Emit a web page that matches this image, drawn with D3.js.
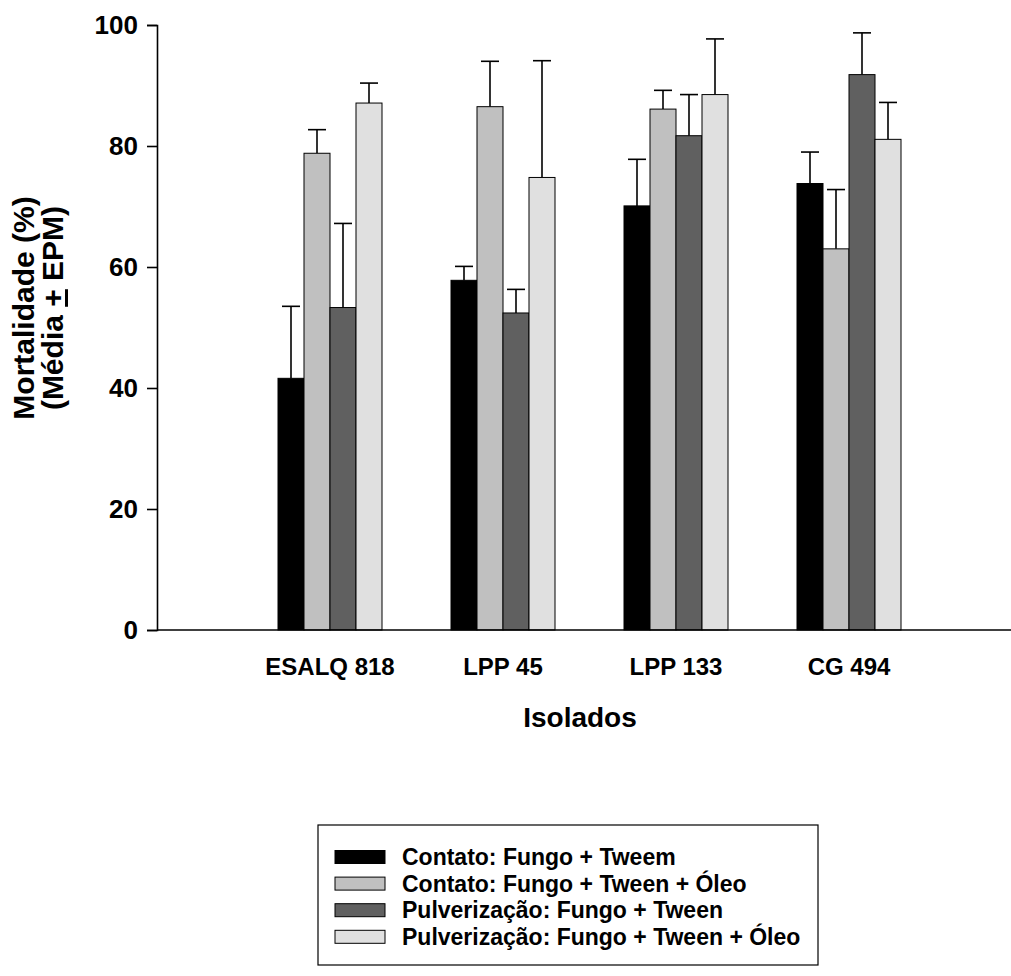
<!DOCTYPE html>
<html>
<head>
<meta charset="utf-8">
<script src="https://cdn.jsdelivr.net/npm/d3@7"></script>
<style>
  html, body { margin: 0; padding: 0; background: #fff; overflow: hidden; }
  svg { display: block; }
  text { font-family: "Liberation Sans", Arial, sans-serif; font-weight: bold; fill: #000; }
</style>
</head>
<body>
<svg id="chart" width="1011" height="976"></svg>
<script>
const categories = ["ESALQ 818", "LPP 45", "LPP 133", "CG 494"];
const seriesNames = [
  "Contato: Fungo + Tweem",
  "Contato: Fungo + Tween + Óleo",
  "Pulverização: Fungo + Tween",
  "Pulverização: Fungo + Tween + Óleo"
];
const seriesColors = ["#000000", "#c0c0c0", "#606060", "#e0e0e0"];
// means per series, in category order
const contatoTween      = [41.6, 57.8, 70.1, 73.8];
const contatoTweenOleo  = [78.8, 86.5, 86.1, 63.0];
const pulvTween         = [53.3, 52.4, 81.7, 91.8];
const pulvTweenOleo     = [87.1, 74.8, 88.5, 81.1];
// standard errors (EPM)
const epmContatoTween     = [11.9, 2.3, 7.7, 5.2];
const epmContatoTweenOleo = [3.9, 7.5, 3.1, 9.8];
const epmPulvTween        = [13.9, 3.9, 6.8, 6.9];
const epmPulvTweenOleo    = [3.3, 19.3, 9.2, 6.1];
const yTicks = [0, 20, 40, 60, 80, 100];

const means = [contatoTween, contatoTweenOleo, pulvTween, pulvTweenOleo];
const epms = [epmContatoTween, epmContatoTweenOleo, epmPulvTween, epmPulvTweenOleo];

const svg = d3.select("#chart");
const axisLeft = 157, axisRight = 1011, yTop = 25, yBottom = 630;

const y = d3.scaleLinear().domain([0, 100]).range([yBottom, yTop]);
const step = 173;
const x0 = d3.scaleBand().domain(categories)
  .range([axisLeft + step * 0.5, axisLeft + step * 4.5]).paddingInner(0).paddingOuter(0);
const barW = 26;
const x1 = d3.scaleBand().domain(d3.range(seriesNames.length))
  .range([0, x0.bandwidth()]).paddingInner(0).paddingOuter((x0.bandwidth() / barW - 4) / 2);

const data = [];
categories.forEach((c, ci) => {
  seriesNames.forEach((s, si) => {
    data.push({ cat: c, si, v: means[si][ci], e: epms[si][ci] });
  });
});

// error bars
const eg = svg.append("g");
data.forEach(d => {
  const cx = x0(d.cat) + x1(d.si) + x1.bandwidth() / 2;
  eg.append("line").attr("x1", cx).attr("x2", cx)
    .attr("y1", y(d.v)).attr("y2", y(d.v + d.e))
    .attr("stroke", "#000").attr("stroke-width", 1.6);
  eg.append("line").attr("x1", cx - 9).attr("x2", cx + 9)
    .attr("y1", y(d.v + d.e)).attr("y2", y(d.v + d.e))
    .attr("stroke", "#000").attr("stroke-width", 1.6);
});

// bars
svg.append("g").selectAll("rect").data(data).join("rect")
  .attr("x", d => x0(d.cat) + x1(d.si))
  .attr("y", d => y(d.v))
  .attr("width", x1.bandwidth())
  .attr("height", d => y(0) - y(d.v))
  .attr("fill", d => seriesColors[d.si])
  .attr("stroke", "#000").attr("stroke-width", 1);

// y axis
const yAxis = svg.append("g").attr("transform", `translate(${axisLeft},0)`)
  .call(d3.axisLeft(y).tickValues(yTicks).tickSize(10).tickPadding(9));
yAxis.select(".domain").attr("stroke", "#000").attr("stroke-width", 1.6);
yAxis.selectAll(".tick line").attr("stroke", "#000").attr("stroke-width", 1.6);
yAxis.selectAll(".tick text").style("font-size", "26px")
  .style("font-family", "Liberation Sans, Arial, sans-serif").style("font-weight", "bold");

// x axis line
svg.append("line").attr("x1", axisLeft).attr("x2", axisRight)
  .attr("y1", yBottom).attr("y2", yBottom).attr("stroke", "#000").attr("stroke-width", 1.6);

// x category labels
svg.append("g").selectAll("text").data(categories).join("text")
  .attr("x", d => x0(d) + x0.bandwidth() / 2)
  .attr("y", 675)
  .attr("text-anchor", "middle")
  .style("font-size", "24px")
  .text(d => d);

// x title
svg.append("text").attr("x", 580).attr("y", 727)
  .attr("text-anchor", "middle").style("font-size", "28px").text("Isolados");

// y title
const yt = svg.append("text").attr("transform", "translate(0,308) rotate(-90)")
  .attr("text-anchor", "middle").style("font-size", "30px");
yt.append("tspan").attr("x", 0).attr("y", 34).text("Mortalidade (%)");
const l2 = yt.append("tspan").attr("x", 0).attr("y", 63);
l2.append("tspan").text("(Média ");
l2.append("tspan").style("text-decoration", "underline").text("+");
l2.append("tspan").text(" EPM)");

// legend
const lg = svg.append("g");
lg.append("rect").attr("x", 318).attr("y", 825).attr("width", 500).attr("height", 140)
  .attr("fill", "#fff").attr("stroke", "#000").attr("stroke-width", 1.2);
seriesNames.forEach((s, i) => {
  const cy = 857 + i * 26.6;
  lg.append("rect").attr("x", 335).attr("y", cy - 6.5).attr("width", 50).attr("height", 13)
    .attr("fill", seriesColors[i]).attr("stroke", "#000").attr("stroke-width", 1);
  lg.append("text").attr("x", 402).attr("y", cy + 8).style("font-size", "23px").text(s);
});
</script>
</body>
</html>
